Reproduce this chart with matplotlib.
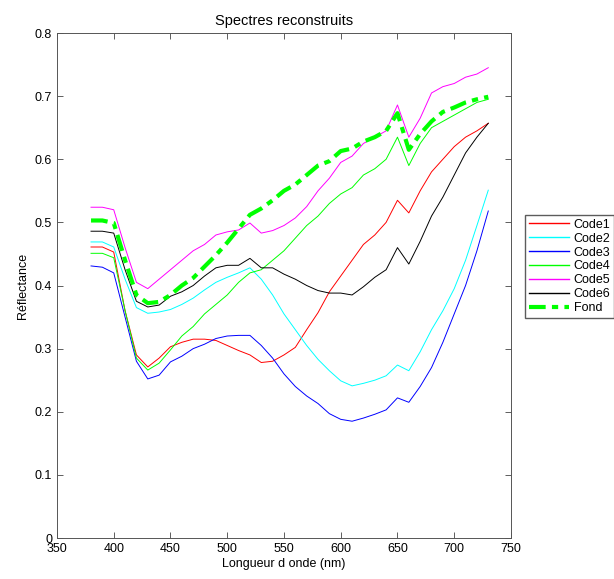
import numpy as np
import matplotlib.pyplot as plt

# longueurs d'onde (nm)
wl = np.arange(380, 740, 10)

code1 = [0.461, 0.461, 0.453, 0.36, 0.29, 0.271, 0.285, 0.303, 0.31, 0.315, 0.315, 0.313,
         0.305, 0.297, 0.29, 0.278, 0.28, 0.29, 0.302, 0.33, 0.357, 0.39, 0.415, 0.44,
         0.465, 0.48, 0.50, 0.535, 0.515, 0.55, 0.58, 0.60, 0.62, 0.635, 0.645, 0.657]
code2 = [0.469, 0.469, 0.461, 0.41, 0.365, 0.356, 0.358, 0.362, 0.37, 0.38, 0.393, 0.405,
         0.413, 0.42, 0.428, 0.41, 0.385, 0.355, 0.33, 0.305, 0.283, 0.265, 0.249, 0.241,
         0.245, 0.25, 0.257, 0.274, 0.265, 0.295, 0.33, 0.36, 0.395, 0.44, 0.495, 0.551]
code3 = [0.431, 0.429, 0.42, 0.35, 0.28, 0.252, 0.258, 0.279, 0.288, 0.30, 0.307, 0.316,
         0.32, 0.321, 0.321, 0.305, 0.285, 0.26, 0.24, 0.225, 0.213, 0.197, 0.188, 0.185,
         0.19, 0.196, 0.203, 0.222, 0.215, 0.24, 0.27, 0.31, 0.355, 0.40, 0.455, 0.518]
code4 = [0.451, 0.451, 0.444, 0.36, 0.285, 0.266, 0.277, 0.298, 0.32, 0.335, 0.355, 0.37,
         0.385, 0.405, 0.42, 0.425, 0.44, 0.455, 0.475, 0.495, 0.51, 0.53, 0.545, 0.555,
         0.575, 0.585, 0.60, 0.635, 0.59, 0.625, 0.65, 0.66, 0.67, 0.68, 0.69, 0.695]
code5 = [0.524, 0.524, 0.52, 0.46, 0.405, 0.395, 0.41, 0.425, 0.44, 0.455, 0.465, 0.48,
         0.485, 0.488, 0.499, 0.483, 0.487, 0.495, 0.507, 0.525, 0.55, 0.57, 0.595, 0.605,
         0.625, 0.635, 0.645, 0.686, 0.635, 0.665, 0.705, 0.715, 0.72, 0.73, 0.735, 0.745]
code6 = [0.486, 0.486, 0.483, 0.425, 0.375, 0.366, 0.369, 0.383, 0.39, 0.40, 0.415, 0.428,
         0.432, 0.432, 0.443, 0.428, 0.428, 0.418, 0.41, 0.40, 0.392, 0.388, 0.388, 0.385,
         0.398, 0.413, 0.425, 0.46, 0.434, 0.47, 0.51, 0.54, 0.575, 0.61, 0.635, 0.657]
fond = [0.503, 0.503, 0.499, 0.44, 0.385, 0.372, 0.374, 0.385, 0.40, 0.412, 0.43, 0.448,
        0.468, 0.49, 0.512, 0.522, 0.535, 0.55, 0.56, 0.575, 0.59, 0.597, 0.613, 0.617,
        0.628, 0.635, 0.645, 0.673, 0.615, 0.64, 0.66, 0.675, 0.682, 0.69, 0.695, 0.699]

series = [code1, code2, code3, code4, code5, code6]
labels = ['Code1', 'Code2', 'Code3', 'Code4', 'Code5', 'Code6']
colors = ['#ff0000', '#00ffff', '#0000ff', '#00ff00', '#ff00ff', '#000000']

plt.rcParams['font.family'] = ['Liberation Sans', 'DejaVu Sans']

fig = plt.figure(figsize=(6.14, 5.79), dpi=100)
ax = fig.add_axes([0.0928, 0.0708, 0.7394, 0.8722])

for y, lab, c in zip(series, labels, colors):
    ax.plot(wl, y, color=c, lw=0.7, label=lab)
ax.plot(wl, fond, color='#00ff00', lw=3, ls='-.', label='Fond', dashes=(4, 1.5, 1.5, 1.5))

ax.set_xlim(350, 750)
ax.set_ylim(0, 0.8)
ax.set_xticks(np.arange(350, 751, 50))
ax.set_yticks(np.arange(0, 0.81, 0.1))
ax.set_yticklabels(['0', '0.1', '0.2', '0.3', '0.4', '0.5', '0.6', '0.7', '0.8'])
ax.tick_params(direction='in', top=True, right=True, labelsize=9, length=4, width=0.6, color='#444444')
for s in ax.spines.values():
    s.set_color('#555555')
    s.set_linewidth(0.7)

ax.set_title('Spectres reconstruits', fontsize=10.5)
ax.set_xlabel('Longueur d onde (nm)', fontsize=9, labelpad=2)
ax.set_ylabel('Réflectance', fontsize=9)

handles, labs = ax.get_legend_handles_labels()
leg = fig.legend(handles, labs, loc='upper left', bbox_to_anchor=(525 / 614, 1 - 215 / 579), fontsize=9,
                 frameon=True, fancybox=False, edgecolor='#333333', borderpad=0.3,
                 labelspacing=0.15, handlelength=3.2, handletextpad=0.4, borderaxespad=0)
for ln, c in zip(leg.get_lines(), colors + ['#00ff00']):
    ln.set_color(c)
    if c != '#00ff00' or ln.get_linewidth() < 2:
        ln.set_linewidth(1.0)

fig.savefig('out.png', dpi=100, facecolor='white')
